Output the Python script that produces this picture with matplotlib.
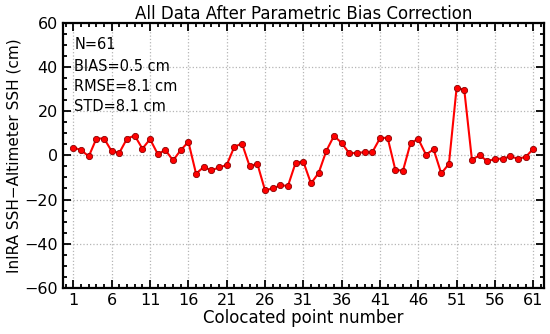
import matplotlib
matplotlib.use('Agg')
import matplotlib.pyplot as plt
import numpy as np
from matplotlib.ticker import MultipleLocator

points = np.arange(1, 62)
diff = [3.5, 2.4, -0.5, 7.6, 7.6, 1.8, 1.2, 7.6, 8.9, 3.0,
        7.3, 0.6, 2.4, -2.3, 2.3, 6.1, -8.3, -5.3, -6.8, -5.5,
        -4.4, 3.9, 5.3, -5.0, -3.8, -15.8, -15.0, -13.6, -13.8, -3.3,
        -2.9, -12.7, -8.0, 2.0, 8.8, 5.6, 0.9, 1.1, 1.4, 1.4,
        7.7, 8.0, -6.5, -7.0, 5.6, 7.4, 0.3, 2.7, -8.2, -3.9,
        30.5, 29.7, -2.0, 0.0, -2.6, -1.7, -1.5, -0.5, -1.5, -0.8,
        2.9]
stats = ['N=61', 'BIAS=0.5 cm', 'RMSE=8.1 cm', 'STD=8.1 cm']
stats_y = [50, 40, 31, 22]
xticks = np.arange(1, 62, 5)

fig = plt.figure(figsize=(5.5, 3.34), dpi=100)
ax = fig.add_axes([0.114, 0.138, 0.875, 0.794])

ax.plot(points, diff, color='red', linewidth=1.5, marker='o',
        markersize=4.5, markerfacecolor='red', markeredgecolor='#8b0000',
        markeredgewidth=0.6)

for s, y in zip(stats, stats_y):
    ax.text(1.1, y, s, ha='left', va='center', fontsize=10.5)

ax.set_xlim(-0.4, 62.4)
ax.set_ylim(-60, 60)
ax.set_xticks(xticks)
ax.xaxis.set_minor_locator(MultipleLocator(1))
ax.set_yticks(np.arange(-60, 61, 20))
ax.yaxis.set_minor_locator(MultipleLocator(5))
ax.grid(True, which='major', linestyle=':', color='#b5b5b5', linewidth=0.9)

ax.tick_params(which='both', direction='in', top=True, right=True,
               labelsize=11.5, width=1.3)
ax.tick_params(which='major', length=6)
ax.tick_params(which='minor', length=3)
for sp in ax.spines.values():
    sp.set_linewidth(1.6)

ax.set_title('All Data After Parametric Bias Correction', fontsize=12, pad=3)
ax.set_xlabel('Colocated point number', fontsize=12, labelpad=1)
ax.set_ylabel('InIRA SSH\u2212Altimeter SSH (cm)', fontsize=11, labelpad=2)

fig.savefig('out.png', dpi=100)
